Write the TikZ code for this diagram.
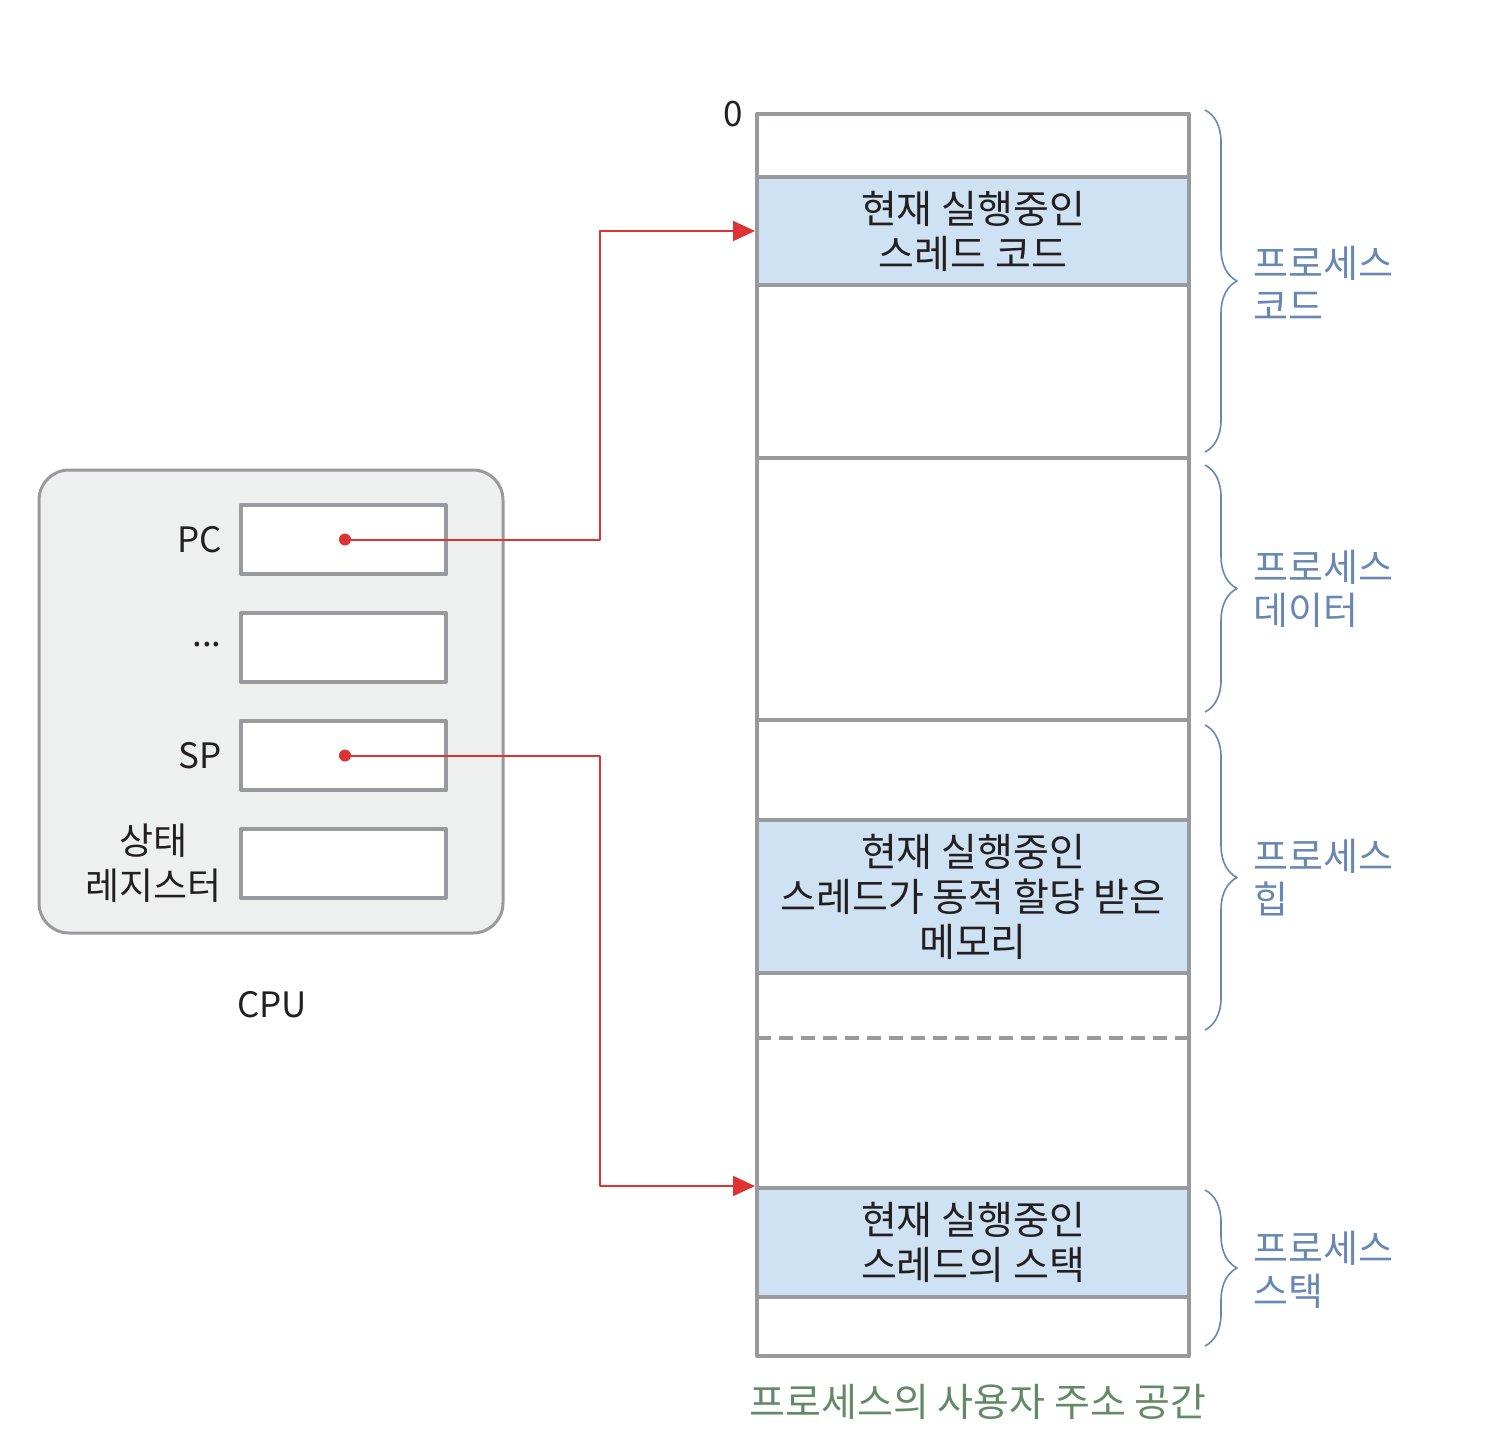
\documentclass[tikz,border=0pt]{standalone}
\usepackage{fontspec}
\setmainfont{Noto Sans CJK KR}
\usetikzlibrary{arrows.meta,decorations.pathreplacing}
\definecolor{segline}{RGB}{153,154,158}
\definecolor{segfill}{RGB}{207,226,243}
\definecolor{cpufill}{RGB}{238,240,239}
\definecolor{ptrred}{RGB}{221,51,51}
\definecolor{bracecol}{RGB}{104,136,180}
\definecolor{spacecol}{RGB}{98,138,100}
\definecolor{txt}{RGB}{35,31,32}
\tikzset{
  every node/.style={font=\fontsize{17.5pt}{22pt}\selectfont,text=txt},
  kr/.style={font=\fontsize{19.5pt}{22.5pt}\selectfont},
  seg/.style={draw=segline,line width=2pt,fill=segfill,minimum width=216pt,align=center,inner sep=0pt,kr},
  reg/.style={draw=segline,line width=2pt,fill=white,minimum width=102.5pt,minimum height=34.5pt,inner sep=0pt},
  dot/.style={circle,fill=ptrred,inner sep=0pt,minimum size=6pt},
  ptr/.style={draw=ptrred,line width=1pt,-{Triangle[length=11pt,width=10pt]}},
  curly/.style={draw=bracecol,line width=0.8pt,decorate,decoration={brace,amplitude=16pt}},
  part/.style={anchor=west,align=left,text=bracecol,inner sep=0pt,font=\fontsize{19pt}{21.5pt}\selectfont}
}
\begin{document}
\begin{tikzpicture}[x=0.5pt,y=-0.5pt,line join=round]
  \useasboundingbox (0,0) rectangle (1502,1440);
  % cpu
  \draw[draw=segline,line width=1.5pt,fill=cpufill,rounded corners=15pt] (39,470) rectangle (503,933);
  \node[reg] (pc) at (343.5,539.5) {};
  \node[reg] (etc) at (343.5,647.5) {};
  \node[reg] (sp) at (343.5,755.5) {};
  \node[reg] (sr) at (343.5,863.5) {};
  \node[anchor=east,inner sep=0pt] (pclbl) at (222,539.5) {PC};
  \node[anchor=east,inner sep=0pt] (etclbl) at (222,645) {...};
  \node[anchor=east,inner sep=0pt] (splbl) at (222,755.5) {SP};
  \node[anchor=east,inner sep=0pt,align=center,font=\fontsize{18.5pt}{22.5pt}\selectfont] (srlbl) at (222,863.5) {상태\\레지스터};
  \node (cpulbl) at (272,1005) {CPU};
  % address space
  \draw[segline,line width=2pt] (757,114) rectangle (1189,1356);
  \draw[segline,line width=2pt] (757,458) -- (1189,458);
  \draw[segline,line width=2pt] (757,720) -- (1189,720);
  \draw[segline,line width=2pt,dash pattern=on 7pt off 4pt] (757,1038) -- (1189,1038);
  \node[seg,minimum height=54pt] (code) at (973,231) {현재 실행중인\\스레드 코드};
  \node[seg,minimum height=76.5pt] (heap) at (973,896.5) {현재 실행중인\\스레드가 동적 할당 받은\\메모리};
  \node[seg,minimum height=54.5pt] (stack) at (973,1242.5) {현재 실행중인\\스레드의 스택};
  \node (zero) at (733,114) {0};
  \node[text=spacecol,kr] (space) at (978,1402) {프로세스의 사용자 주소 공간};
  % braces
  \draw[curly] (1205,110) -- (1205,452);
  \draw[curly] (1205,465) -- (1205,712);
  \draw[curly] (1205,725) -- (1205,1030);
  \draw[curly] (1205,1190) -- (1205,1346);
  \node[part] (codelbl) at (1253,283.5) {프로세스\\코드};
  \node[part] (datalbl) at (1253,588.5) {프로세스\\데이터};
  \node[part] (heaplbl) at (1253,877.5) {프로세스\\힙};
  \node[part] (stacklbl) at (1253,1269.5) {프로세스\\스택};
  % pointers
  \coordinate (bend) at (600,0);
  \node[dot] (pcdot) at (345,539.5) {};
  \node[dot] (spdot) at (345,755.5) {};
  \draw[ptr] (pcdot.center) -- (pcdot -| bend) |- (code.west);
  \draw[ptr] (spdot.center) -- (spdot -| bend) |- (stack.north west);
\end{tikzpicture}
\end{document}
